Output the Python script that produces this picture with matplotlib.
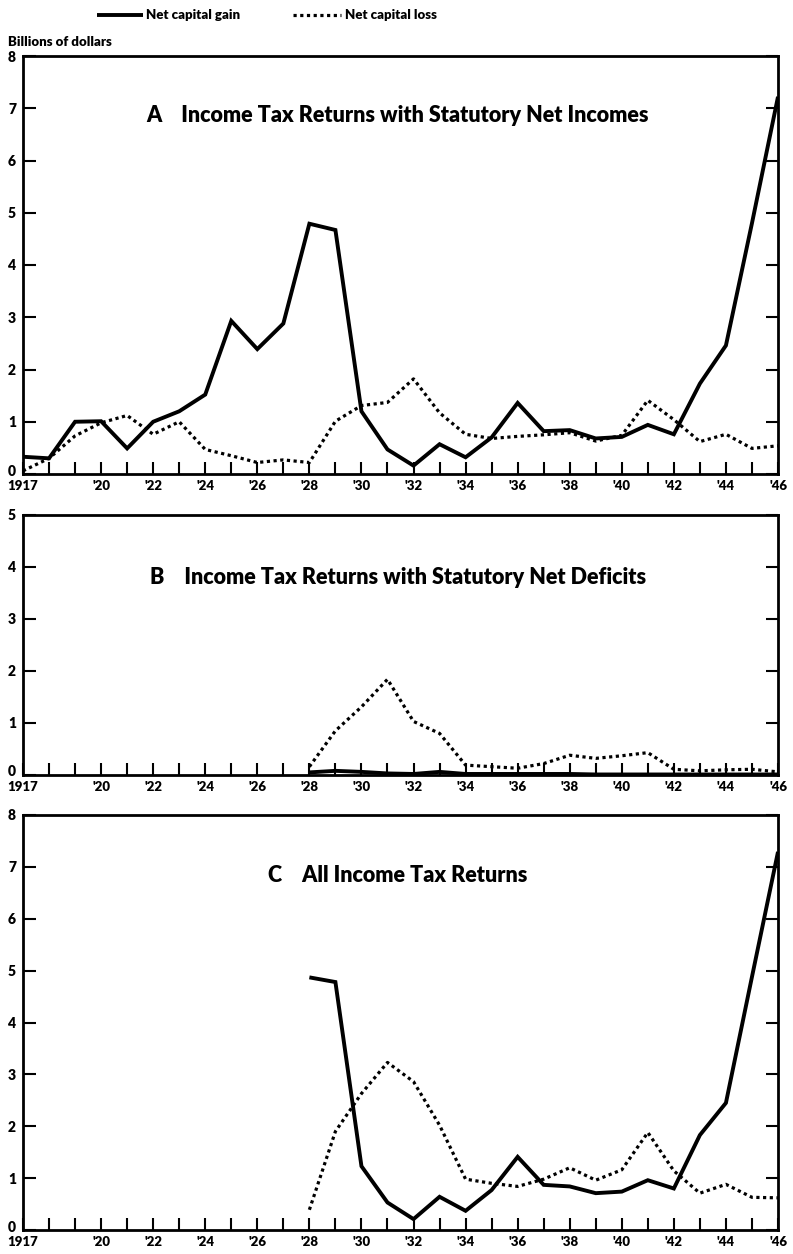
import matplotlib
matplotlib.use("Agg")
import matplotlib.pyplot as plt
from matplotlib.ticker import FixedLocator
from matplotlib.transforms import ScaledTranslation
from matplotlib.lines import Line2D

plt.rcParams['font.family'] = ['Lato', 'DejaVu Sans']
WT = 'heavy'
plt.rcParams['font.weight'] = WT

years = list(range(1917, 1947))
years_b = list(range(1928, 1947))

# Panel A: returns with statutory net incomes (billions of dollars)
a_gain = [0.33, 0.30, 1.00, 1.01, 0.49, 1.00, 1.20, 1.52, 2.93, 2.39,
          2.88, 4.79, 4.67, 1.20, 0.47, 0.16, 0.57, 0.32, 0.70, 1.36,
          0.82, 0.84, 0.68, 0.71, 0.94, 0.76, 1.73, 2.46, 4.80, 7.22]
a_loss = [0.06, 0.30, 0.73, 0.98, 1.12, 0.76, 1.00, 0.47, 0.35, 0.22,
          0.27, 0.22, 1.01, 1.31, 1.37, 1.82, 1.17, 0.76, 0.68, 0.72,
          0.75, 0.79, 0.63, 0.74, 1.41, 1.04, 0.62, 0.76, 0.49, 0.54]

# Panel B: returns with statutory net deficits
b_gain = [0.05, 0.08, 0.06, 0.03, 0.02, 0.06, 0.02, 0.02, 0.02, 0.02,
          0.02, 0.01, 0.01, 0.01, 0.01, 0.01, 0.01, 0.01, 0.01]
b_loss = [0.16, 0.85, 1.31, 1.84, 1.03, 0.80, 0.19, 0.16, 0.13, 0.22,
          0.38, 0.32, 0.37, 0.43, 0.11, 0.08, 0.10, 0.11, 0.06]

# Panel C: all income tax returns
c_gain = [4.87, 4.78, 1.23, 0.53, 0.21, 0.64, 0.37, 0.77, 1.41, 0.87,
          0.84, 0.71, 0.74, 0.96, 0.80, 1.83, 2.45, 4.88, 7.29]
c_loss = [0.39, 1.90, 2.63, 3.23, 2.86, 2.02, 0.98, 0.90, 0.84, 0.98,
          1.20, 0.96, 1.16, 1.88, 1.14, 0.71, 0.88, 0.63, 0.62]

xtick_labels = ['1917', "'20", "'22", "'24", "'26", "'28", "'30", "'32",
                "'34", "'36", "'38", "'40", "'42", "'44", "'46"]
xtick_pos = [1917] + list(range(1920, 1947, 2))

titles = ["A    Income Tax Returns with Statutory Net Incomes",
          "B    Income Tax Returns with Statutory Net Deficits",
          "C    All Income Tax Returns"]

legend_labels = ["Net capital gain", "Net capital loss"]

W, H = 793, 1254
fig = plt.figure(figsize=(W / 100, H / 100), dpi=100)

def rect(l, t, r, b):
    return [l / W, 1 - b / H, (r - l) / W, (b - t) / H]

axA = fig.add_axes(rect(23, 56, 778, 474))
axB = fig.add_axes(rect(23, 515, 778, 775))
axC = fig.add_axes(rect(23, 815, 778, 1230))

solid_kw = dict(color='black', lw=2.8, solid_joinstyle='miter', solid_capstyle='butt')
dot_kw = dict(color='black', lw=2.3, linestyle=(0, (1, 1.1)))

axA.plot(years, a_gain, **solid_kw)
axA.plot(years, a_loss, **dot_kw)
axB.plot(years_b, b_gain, **solid_kw)
axB.plot(years_b, b_loss, **dot_kw)
axC.plot(years_b, c_gain, **solid_kw)
axC.plot(years_b, c_loss, **dot_kw)

tfs = 9.5
for ax, ymax, title, ty in [(axA, 8, titles[0], 6.87), (axB, 5, titles[1], 3.8),
                            (axC, 8, titles[2], 6.84)]:
    ax.set_xlim(1917, 1946)
    ax.set_ylim(0, ymax)
    ax.set_yticks(range(0, ymax + 1))
    ax.set_yticklabels([str(v) for v in range(0, ymax + 1)], fontsize=tfs + 0.5, fontweight=WT)
    ax.xaxis.set_major_locator(FixedLocator(xtick_pos))
    ax.set_xticklabels(xtick_labels, fontsize=tfs, fontweight=WT)
    ax.xaxis.set_minor_locator(FixedLocator([y for y in range(1918, 1946) if y not in xtick_pos]))
    ax.tick_params(axis='x', which='both', direction='in', length=9, width=1.5, pad=4,
                   top=False, bottom=True)
    ax.tick_params(axis='y', which='both', direction='in', length=9, width=1.5, pad=5,
                   left=True, right=True)
    zero = ax.get_yticklabels()[0]
    zero.set_transform(zero.get_transform() + ScaledTranslation(0, 4 / 100, fig.dpi_scale_trans))
    for s in ax.spines.values():
        s.set_linewidth(2)
    ax.text(1931.4, ty, title, ha='center', va='center', fontsize=15.5, fontweight=WT)

fig.text(8 / W, 1 - 42 / H, "Billions of dollars", fontsize=tfs, fontweight=WT,
         ha='left', va='center')

# legend drawn at the reference positions
ly = 1 - 15 / H
fig.add_artist(Line2D([97 / W, 143 / W], [ly, ly], transform=fig.transFigure, **solid_kw))
fig.text(146 / W, ly, legend_labels[0], fontsize=9.5, fontweight=WT, ha='left', va='center')
fig.add_artist(Line2D([293 / W, 341 / W], [ly, ly], transform=fig.transFigure, **dot_kw))
fig.text(345 / W, ly, legend_labels[1], fontsize=9.5, fontweight=WT, ha='left', va='center')

fig.savefig("out.png", dpi=100)
